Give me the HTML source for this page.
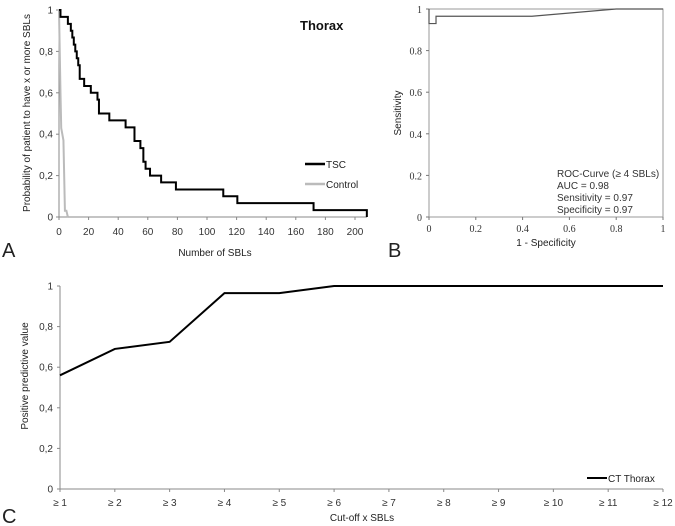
<!DOCTYPE html>
<html><head><meta charset="utf-8"><style>
body{margin:0;background:#fff;}
svg{display:block;font-family:"Liberation Sans",sans-serif;}
</style></head><body>
<svg id="fig" width="675" height="526" viewBox="0 0 675 526"></svg>
<script>
// Panel A data
const tscX=[0,1,3,6,8,9,10,11,12,13,14,15,17,21.5,26,27,34,45,51,55,57,58.5,61.5,69,79,111,120.5,172,208];
const tscY=[1,0.967,0.967,0.933,0.9,0.867,0.833,0.8,0.767,0.733,0.667,0.667,0.633,0.6,0.567,0.5,0.467,0.433,0.367,0.333,0.267,0.233,0.2,0.167,0.133,0.1,0.067,0.033,0];
const ctlX=[0,1,1.5,3,4,5,6];
const ctlY=[1,0.6,0.43,0.37,0.03,0.03,0];
const aXTicks=[0,20,40,60,80,100,120,140,160,180,200];
const aYTicks=[0,0.2,0.4,0.6,0.8,1];
// Panel B data
const rocX=[0,0,0.03,0.03,0.44,0.8,1];
const rocY=[1,0.93,0.93,0.965,0.965,1,1];
const bTicks=[0,0.2,0.4,0.6,0.8,1];
// Panel C data
const cCats=["≥ 1","≥ 2","≥ 3","≥ 4","≥ 5","≥ 6","≥ 7","≥ 8","≥ 9","≥ 10","≥ 11","≥ 12"];
const ppv=[0.56,0.69,0.725,0.965,0.965,1,1,1,1,1,1,1];
const cYTicks=[0,0.2,0.4,0.6,0.8,1];

const svg=document.getElementById('fig');
const NS='http://www.w3.org/2000/svg';
function mk(tag,at,txt){const e=document.createElementNS(NS,tag);for(const k in at)e.setAttribute(k,at[k]);if(txt!=null)e.textContent=txt;svg.appendChild(e);return e;}
const fmtC=v=>String(v).replace('.',',');

// ---- Panel A ----
const ax=v=>59+v*1.48, ay=v=>217-v*207;
let e=mk('line',{x1:59,y1:10,x2:59,y2:217,stroke:'#888'});


e=mk('line',{x1:59,y1:217,x2:367,y2:217,stroke:'#888'});


aYTicks.forEach(v=>{mk('line',{x1:56,x2:59,y1:ay(v),y2:ay(v),stroke:'#888'});
 e=mk('text',{x:53,y:ay(v)+3.5,'text-anchor':'end','font-size':10,fill:'#333'},fmtC(v));
 
 });
aXTicks.forEach(v=>{mk('line',{x1:ax(v),x2:ax(v),y1:217,y2:220,stroke:'#888'});
 e=mk('text',{x:ax(v),y:235,'text-anchor':'middle','font-size':10,fill:'#333'},v);
 
 });
function stepPath(X,Y){let d='M'+ax(X[0])+','+ay(Y[0]);for(let i=1;i<X.length;i++){d+=' L'+ax(X[i])+','+ay(Y[i-1])+' L'+ax(X[i])+','+ay(Y[i]);}return d;}
function linePath(X,Y,fx,fy){return X.map((x,i)=>(i?'L':'M')+fx(x)+','+fy(Y[i])).join(' ');}
e=mk('path',{d:linePath(ctlX,ctlY,ax,ay),fill:'none',stroke:'#bbb','stroke-width':2});


e=mk('path',{d:stepPath(tscX,tscY),fill:'none',stroke:'#000','stroke-width':2});


e=mk('text',{x:300,y:30,'font-size':13,'font-weight':'bold',fill:'#111'},'Thorax');


mk('line',{x1:305,x2:325,y1:164,y2:164,stroke:'#000','stroke-width':2.5});
e=mk('text',{x:326,y:168,'font-size':10,fill:'#222'},'TSC');


mk('line',{x1:305,x2:325,y1:184,y2:184,stroke:'#bbb','stroke-width':2.5});
e=mk('text',{x:326,y:188,'font-size':10,fill:'#222'},'Control');


e=mk('text',{x:0,y:0,'font-size':10,fill:'#222','text-anchor':'middle',transform:'translate(30,113) rotate(-90)'},'Probability of patient to have x or more SBLs');


e=mk('text',{x:215,y:256,'font-size':10,'text-anchor':'middle',fill:'#222'},'Number of SBLs');


e=mk('text',{x:2,y:257,'font-size':20,fill:'#222'},'A');



// ---- Panel B ----
const bx=v=>429+v*234, by=v=>217-v*208;
e=mk('rect',{x:429,y:9,width:234,height:208,fill:'none',stroke:'#999'});


bTicks.forEach(v=>{mk('line',{x1:426,x2:429,y1:by(v),y2:by(v),stroke:'#777'});
 e=mk('text',{x:422,y:by(v)+4,'text-anchor':'end','font-size':10,fill:'#333','font-family':'Liberation Serif,serif'},v);
 
 
 mk('line',{x1:bx(v),x2:bx(v),y1:217,y2:220,stroke:'#777'});
 e=mk('text',{x:bx(v),y:232,'text-anchor':'middle','font-size':10,fill:'#333','font-family':'Liberation Serif,serif'},v);
 
 });
e=mk('path',{d:linePath(rocX,rocY,bx,by),fill:'none',stroke:'#555','stroke-width':1.2});


['ROC-Curve (≥ 4 SBLs)','AUC = 0.98','Sensitivity = 0.97','Specificity = 0.97'].forEach((t,i)=>{
 e=mk('text',{x:557,y:177+i*12,'font-size':10,fill:'#333'},t);
 
 });
e=mk('text',{x:0,y:0,'font-size':10,fill:'#222','text-anchor':'middle',transform:'translate(401,113) rotate(-90)'},'Sensitivity');


e=mk('text',{x:546,y:246,'font-size':10,'text-anchor':'middle',fill:'#222'},'1 - Specificity');


e=mk('text',{x:388,y:257,'font-size':20,fill:'#222'},'B');



// ---- Panel C ----
const cx=i=>60+i*(603/11), cy=v=>489-v*203;
e=mk('line',{x1:60,y1:286,x2:60,y2:489,stroke:'#888'});


e=mk('line',{x1:60,y1:489,x2:663,y2:489,stroke:'#888'});


cYTicks.forEach(v=>{mk('line',{x1:57,x2:60,y1:cy(v),y2:cy(v),stroke:'#888'});
 e=mk('text',{x:53,y:cy(v)+3.5,'text-anchor':'end','font-size':10,fill:'#333'},fmtC(v));
 
 });
cCats.forEach((c,i)=>{mk('line',{x1:cx(i),x2:cx(i),y1:489,y2:492,stroke:'#888'});
 e=mk('text',{x:cx(i),y:506,'text-anchor':'middle','font-size':10,fill:'#333'},c);
 
 });
e=mk('path',{d:ppv.map((v,i)=>(i?'L':'M')+cx(i)+','+cy(v)).join(' '),fill:'none',stroke:'#000','stroke-width':2});


mk('line',{x1:587,x2:607,y1:478,y2:478,stroke:'#000','stroke-width':2});
e=mk('text',{x:608,y:482,'font-size':10,fill:'#222'},'CT Thorax');


e=mk('text',{x:0,y:0,'font-size':10,fill:'#222','text-anchor':'middle',transform:'translate(28,376) rotate(-90)'},'Positive predictive value');


e=mk('text',{x:362,y:521,'font-size':10,'text-anchor':'middle',fill:'#222'},'Cut-off x SBLs');


e=mk('text',{x:2,y:523,'font-size':20,fill:'#222'},'C');


</script>
</body></html>
